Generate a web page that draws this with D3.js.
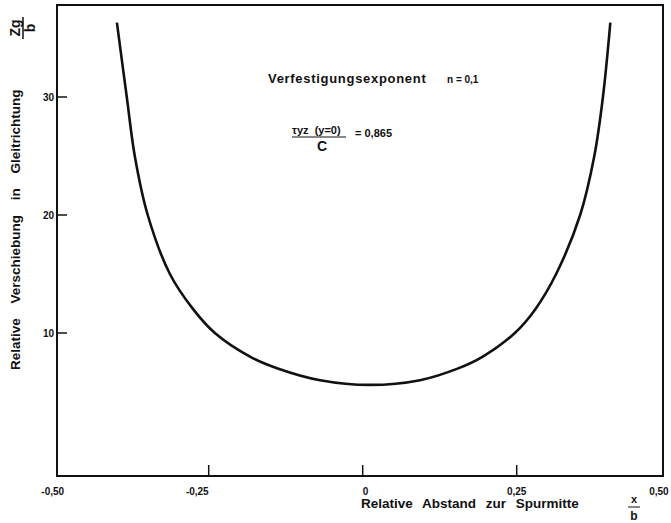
<!DOCTYPE html>
<html><head><meta charset="utf-8">
<script src="https://cdn.jsdelivr.net/npm/d3@7"></script>
<style>
body{margin:0;background:#fff}
text{font-family:"Liberation Sans",Arial,sans-serif;font-weight:bold;fill:#111}
</style></head>
<body><svg id="c" width="671" height="523"></svg>
<script>
const xTicks=[-0.5,-0.25,0,0.25,0.5];
const xTickLabels=["-0,50","-0,25","0","0,25","0,50"];
const yTicks=[10,20,30];
const yTickLabels=["10","20","30"];
const curveX=[-0.399,-0.383,-0.370,-0.349,-0.313,-0.275,-0.240,-0.183,-0.138,-0.069,0.012,0.093,0.155,0.195,0.247,0.280,0.314,0.353,0.376,0.390,0.402];
const curveY=[36.3,30,25,20,15,12,10,8,7,6,5.6,6,7,8,10,12,15,20,25,30,36.3];

const svg=d3.select("#c");
const L=57,R=663,T=5,B=476;
const x=d3.scaleLinear().domain([-0.5,0.5]).range([54.7,670.7]);
const y=d3.scaleLinear().domain([0,30]).range([451,97]);

// frame
svg.append("rect").attr("x",L).attr("y",T).attr("width",R-L).attr("height",B-T)
  .attr("fill","none").attr("stroke","#111").attr("stroke-width",2);

// x ticks
xTicks.forEach((t,i)=>{
  const px=x(t);
  if(px>L+2&&px<R-2){
    svg.append("line").attr("x1",px).attr("x2",px).attr("y1",B).attr("y2",B-11)
      .attr("stroke","#111").attr("stroke-width",1.5);
  }
  const anchor = t===-0.25?"end":(t===0?"start":(t===0.5?"end":"middle"));
  svg.append("text").attr("x",t===0.5?px-2:(t===-0.5?px-2:px)).attr("y",495)
    .attr("text-anchor",anchor).attr("font-size",10).text(xTickLabels[i]);
});
// y ticks
yTicks.forEach((t,i)=>{
  const py=y(t);
  svg.append("line").attr("x1",L).attr("x2",L+10).attr("y1",py).attr("y2",py)
    .attr("stroke","#111").attr("stroke-width",1.5);
  svg.append("text").attr("x",L-3).attr("y",py+4).attr("text-anchor","end")
    .attr("font-size",10).text(yTickLabels[i]);
});

// curve
const line=d3.line().x((d,i)=>x(curveX[i])).y((d,i)=>y(curveY[i])).curve(d3.curveCatmullRom.alpha(0.5));
svg.append("path").datum(curveX).attr("d",line).attr("fill","none")
  .attr("stroke","#111").attr("stroke-width",2.6);

// x-axis title
svg.append("text").attr("x",361).attr("y",508).attr("font-size",13.5)
  .style("word-spacing","6px").text("Relative Abstand zur Spurmitte");
svg.append("text").attr("x",634).attr("y",503).attr("text-anchor","middle").attr("font-size",11).text("x");
svg.append("line").attr("x1",628).attr("x2",640).attr("y1",507).attr("y2",507).attr("stroke","#111").attr("stroke-width",1);
svg.append("text").attr("x",634).attr("y",520).attr("text-anchor","middle").attr("font-size",12).text("b");

// y-axis title
const yt=svg.append("g").attr("transform","translate(20,370) rotate(-90)");
yt.append("text").attr("x",0).attr("y",0).attr("font-size",13.5)
  .style("word-spacing","11px").text("Relative Verschiebung in Gleitrichtung");
const yf=svg.append("g").attr("transform","translate(20,28) rotate(-90)");
yf.append("text").attr("x",0).attr("y",0).attr("text-anchor","middle").attr("font-size",14).text("Zg");
yf.append("line").attr("x1",-11).attr("x2",11).attr("y1",3).attr("y2",3).attr("stroke","#111").attr("stroke-width",1.5);
yf.append("text").attr("x",0).attr("y",15).attr("text-anchor","middle").attr("font-size",14).text("b");

// annotations
svg.append("text").attr("x",268).attr("y",83).attr("font-size",13).style("letter-spacing","0.7px").text("Verfestigungsexponent");
svg.append("text").attr("x",447).attr("y",83).attr("font-size",10).text("n = 0,1");
svg.append("text").attr("x",292).attr("y",134).attr("font-size",11).attr("xml:space","preserve").text("τyz  (y=0)");
svg.append("line").attr("x1",292).attr("x2",346).attr("y1",137).attr("y2",137).attr("stroke","#111").attr("stroke-width",1);
svg.append("text").attr("x",322).attr("y",151).attr("text-anchor","middle").attr("font-size",14).text("C");
svg.append("text").attr("x",355).attr("y",137).attr("font-size",11).text("= 0,865");
</script></body></html>
